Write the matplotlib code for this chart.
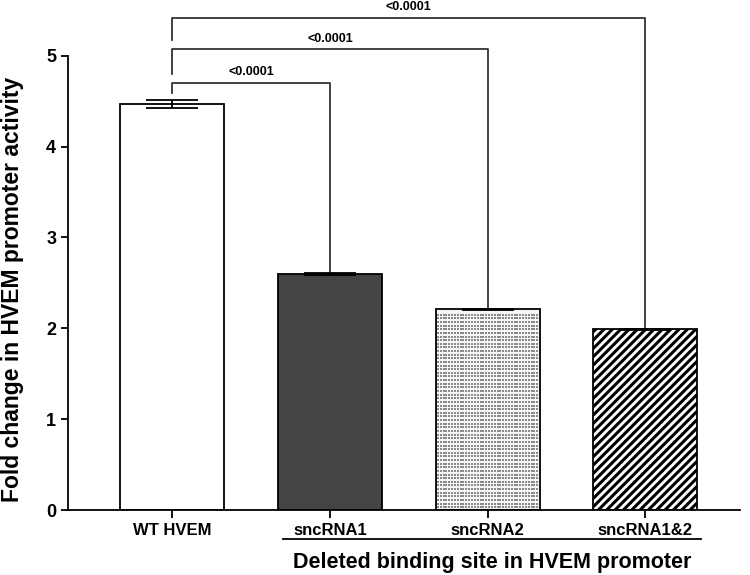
import numpy as np
import matplotlib
matplotlib.use("Agg")
import matplotlib.pyplot as plt

plt.rcParams['font.family'] = ['Liberation Sans', 'DejaVu Sans']
plt.rcParams['font.weight'] = 'bold'
plt.rcParams['hatch.linewidth'] = 2.2

# Data
groups = ["WT HVEM", "sncRNA1", "sncRNA2", "sncRNA1&2"]
means = [4.47, 2.60, 2.21, 1.99]
errors = [0.045, 0.008, 0.008, 0.008]
pvalues = ["<0.0001", "<0.0001", "<0.0001"]

fig = plt.figure(figsize=(7.5, 5.75), dpi=100)
ax = fig.add_axes([0.0907, 0.113, 0.896, 0.79])

x = np.arange(len(groups))
w = 0.66
faces = ["white", "#444444", "#f6f6f6", "white"]
hatches = [None, None, None, "////"]

bars = ax.bar(x, means, width=w, color=faces, edgecolor="black", linewidth=1.3,
              zorder=2)
for b, h in zip(bars, hatches):
    if h:
        b.set_hatch(h)

# stipple texture for sncRNA2
b2 = bars[2]
x0 = b2.get_x()
xx = np.linspace(x0 + 0.015, x0 + w - 0.015, 36)
yy = np.arange(0.03, means[2] - 0.02, 0.04)
gx, gy = np.meshgrid(xx, yy)
ax.scatter(gx.ravel(), gy.ravel(), s=1.3, color="#8a8a8a", marker="s",
           linewidths=0, zorder=3)

ax.errorbar(x, means, yerr=errors, fmt="none", ecolor="black", elinewidth=1.3,
            capsize=18.5, capthick=1.3, zorder=4)

ax.set_xlim(-0.66, 3.6)
ax.set_ylim(0, 5)
ax.set_yticks(range(6))
ax.set_xticks(x)
ax.set_xticklabels(groups, fontsize=12, fontweight="bold")
ax.tick_params(axis="y", labelsize=13, width=1.3, length=5)
ax.tick_params(axis="x", width=1.3, length=6)
for lab in ax.get_yticklabels():
    lab.set_fontweight("bold")
for s in ["top", "right"]:
    ax.spines[s].set_visible(False)
for s in ["left", "bottom"]:
    ax.spines[s].set_linewidth(1.3)

ax.set_ylabel("Fold change in HVEM promoter activity", fontsize=16.5,
              fontweight="bold")
ax.yaxis.set_label_coords(-0.066, 0.485)

# significance brackets
levels = [4.70, 5.07, 5.42]
for i, (lv, p) in enumerate(zip(levels, pvalues)):
    j = i + 1
    left_bottom = means[0] + errors[0] + 0.08 if i == 0 else levels[i - 1] + 0.1
    ax.plot([0, 0, j, j], [left_bottom, lv, lv, means[j] + 0.02],
            color="#333333", lw=1.3, clip_on=False, zorder=1)
    ax.text(j / 2, lv + 0.12, p, ha="center", va="center",
            fontsize=9, fontweight="bold", clip_on=False)

# group underline and label
ax.plot([0.7, 3.35], [-0.32, -0.32], color="black", lw=1.3, clip_on=False)
ax.text(2.03, -0.575, "Deleted binding site in HVEM promoter", ha="center",
        va="center", fontsize=15.5, fontweight="bold")

fig.savefig("out.png", dpi=100)
